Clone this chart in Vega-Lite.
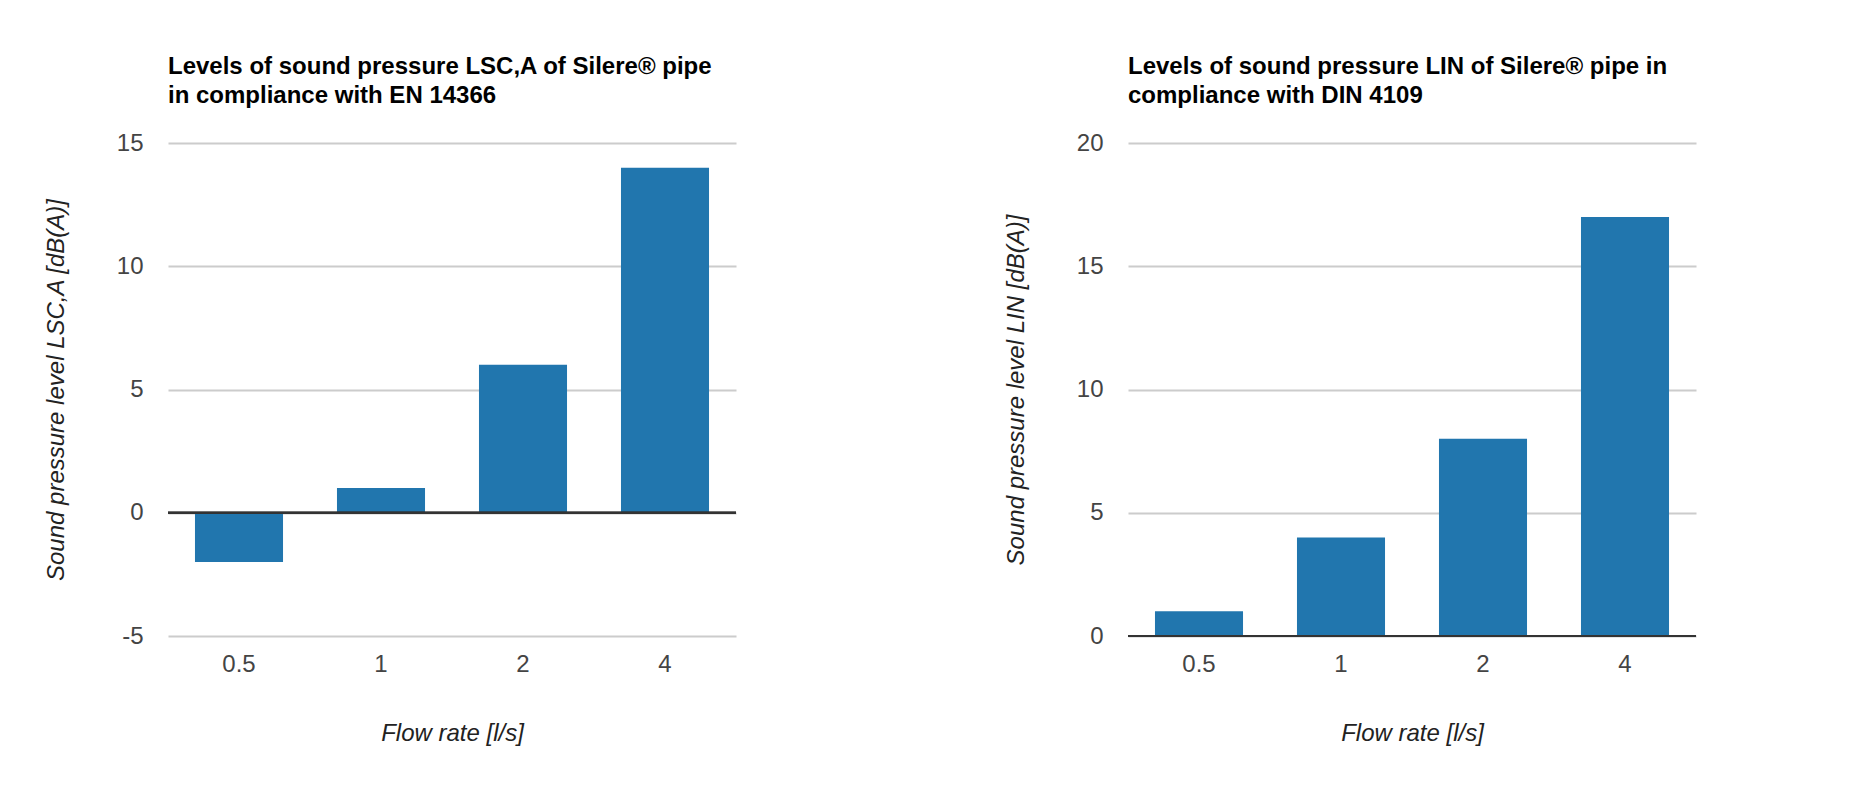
{
  "$schema": "https://vega.github.io/schema/vega-lite/v6.json",
  "background": "white",
  "padding": {"left": 44, "top": 55, "right": 20, "bottom": 20},
  "datasets": {
    "lsc": [
      {"flow": "0.5", "level": -2},
      {"flow": "1", "level": 1},
      {"flow": "2", "level": 6},
      {"flow": "4", "level": 14}
    ],
    "lin": [
      {"flow": "0.5", "level": 1},
      {"flow": "1", "level": 4},
      {"flow": "2", "level": 8},
      {"flow": "4", "level": 17}
    ]
  },
  "spacing": 392,
  "bounds": "flush",
  "hconcat": [
    {
      "width": 568,
      "height": 493,
      "title": {"text": ["Levels of sound pressure LSC,A of Silere® pipe", "in compliance with EN 14366"]},
      "data": {"name": "lsc"},
      "layer": [
        {
          "mark": {"type": "bar", "color": "#2176ae"},
          "encoding": {
            "x": {"field": "flow", "type": "ordinal", "sort": null, "title": "Flow rate [l/s]",
                  "scale": {"paddingInner": 0.38, "paddingOuter": 0.19}},
            "y": {"field": "level", "type": "quantitative", "title": "Sound pressure level LSC,A [dB(A)]",
                  "scale": {"domain": [-5, 15], "nice": false},
                  "axis": {"values": [-5, 0, 5, 10, 15]}}
          }
        },
        {
          "mark": {"type": "rule", "color": "#333333", "strokeWidth": 2},
          "encoding": {"y": {"datum": 0}}
        }
      ]
    },
    {
      "width": 568,
      "height": 493,
      "title": {"text": ["Levels of sound pressure LIN of Silere® pipe in", "compliance with DIN 4109"]},
      "data": {"name": "lin"},
      "layer": [
        {
          "mark": {"type": "bar", "color": "#2176ae"},
          "encoding": {
            "x": {"field": "flow", "type": "ordinal", "sort": null, "title": "Flow rate [l/s]",
                  "scale": {"paddingInner": 0.38, "paddingOuter": 0.19}},
            "y": {"field": "level", "type": "quantitative", "title": "Sound pressure level LIN [dB(A)]",
                  "scale": {"domain": [0, 20], "nice": false},
                  "axis": {"values": [0, 5, 10, 15, 20]}}
          }
        },
        {
          "mark": {"type": "rule", "color": "#333333", "strokeWidth": 2},
          "encoding": {"y": {"datum": 0}}
        }
      ]
    }
  ],
  "config": {
    "view": {"stroke": null},
    "font": "Liberation Sans",
    "title": {"anchor": "start", "frame": "group", "font": "Liberation Sans", "fontSize": 24, "fontWeight": "bold", "color": "#000000", "lineHeight": 29, "offset": 23},
    "axis": {"labelFont": "Liberation Sans", "titleFont": "Liberation Sans", "labelFontSize": 24, "labelColor": "#444444",
             "titleFontSize": 24, "titleFontStyle": "italic", "titleFontWeight": "normal", "titleColor": "#222222",
             "ticks": false, "tickSize": 0, "domain": false},
    "axisX": {"grid": false, "labelAngle": 0, "labelPadding": 16, "titlePadding": 45},
    "axisY": {"grid": true, "gridColor": "#cccccc", "gridWidth": 2, "labelPadding": 25, "titlePadding": 48,
              "labelExpr": "datum.value < 0 ? '-' + abs(datum.value) : '' + datum.value"}
  }
}
